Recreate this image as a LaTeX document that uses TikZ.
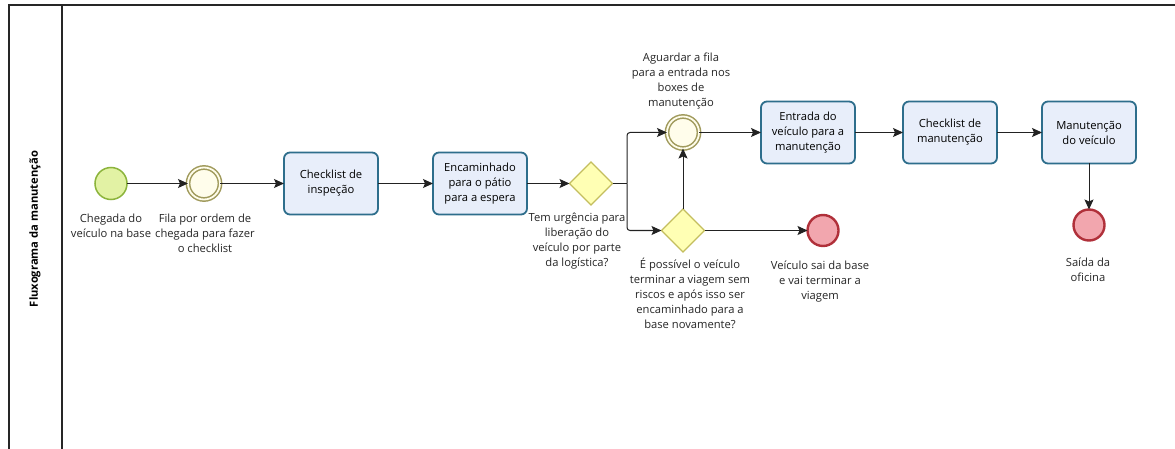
\documentclass[tikz,border=0pt]{standalone}
\usepackage{fontspec}
\setmainfont{Open Sans}
\usetikzlibrary{arrows.meta,shapes.geometric}
\definecolor{taskfill}{HTML}{E8EEFA}
\definecolor{taskdraw}{HTML}{2E6E8C}
\definecolor{startfill}{HTML}{E2F2A4}
\definecolor{startdraw}{HTML}{8CB43C}
\definecolor{midfill}{HTML}{FFFDEB}
\definecolor{middraw}{HTML}{A09A5C}
\definecolor{gwfill}{HTML}{FFFFB4}
\definecolor{gwdraw}{HTML}{C4BE5E}
\definecolor{endfill}{HTML}{F2A6AE}
\definecolor{enddraw}{HTML}{B0303A}
\definecolor{linec}{HTML}{222222}
\tikzset{
  every node/.style={inner sep=0pt, outer sep=0pt},
  lbl/.style={align=center, font=\fontsize{11.2}{15}\selectfont, text=black!85},
  taskbox/.style={draw=taskdraw, fill=taskfill, line width=1.8pt, rounded corners=6pt,
    minimum width=94pt, minimum height=62pt, align=center, font=\fontsize{11.2}{15}\selectfont},
  startev/.style={circle, draw=startdraw, fill=startfill, line width=1.5pt, minimum size=32pt},
  midev/.style={circle, draw=middraw, fill=midfill, line width=1.5pt, minimum size=32pt, double=midfill, double distance=1.8pt},
  endev/.style={circle, draw=enddraw, fill=endfill, line width=2.4pt, minimum size=31pt},
  gw/.style={diamond, draw=gwdraw, fill=gwfill, line width=1.2pt, minimum width=43pt, minimum height=43pt},
  flow/.style={draw=linec, line width=1pt, -{Stealth[length=10pt,width=9pt,inset=2pt]}},
  pool/.style={draw=black!85, line width=1.2pt}
}
\begin{document}
\begin{tikzpicture}[x=1pt,y=-1pt]
\useasboundingbox (0,0) rectangle (1175,449);
\fill[white] (0,0) rectangle (1175,449);
% pool
\draw[pool] (9,449) -- (9,5) -- (1175,5);
\draw[pool] (62,5) -- (62,449);
\node[rotate=90, font=\bfseries\fontsize{11.2}{12}\selectfont] (lane) at (35,229) {Fluxograma da manutenção};
% nodes
\node[startev] (start) at (111,183.5) {};
\node[midev] (fila) at (204,183.5) {};
\node[taskbox] (chk) at (331,183.5) {Checklist de\\inspeção};
\node[taskbox] (enc) at (480,183.5) {Encaminhado\\para o pátio\\para a espera};
\node[gw] (g1) at (591,183.5) {};
\node[midev] (agu) at (683,132.5) {};
\node[gw] (g2) at (683,230.5) {};
\node[endev] (sai) at (823,230.5) {};
\node[taskbox] (ent) at (808,132.5) {Entrada do\\veículo para a\\manutenção};
\node[taskbox] (chm) at (950,132.5) {Checklist de\\manutenção};
\node[taskbox] (man) at (1089,132.5) {Manutenção\\do veículo};
\node[endev] (fim) at (1089,225) {};
\coordinate (split) at (627,183.5);
% labels
\node[lbl] (l1) at (111,226) {Chegada do\\veículo na base};
\node[lbl] (l2) at (205,233) {Fila por ordem de\\chegada para fazer\\o checklist};
\node[lbl] (l3) at (577,241) {Tem urgência para\\liberação do\\veículo por parte\\da logística?};
\node[lbl] (l4) at (681,81) {Aguardar a fila\\para a entrada nos\\boxes de\\manutenção};
\node[lbl] (l5) at (690,293) {É possível o veículo\\terminar a viagem sem\\riscos e após isso ser\\encaminhado para a\\base novamente?};
\node[lbl] (l6) at (820,282) {Veículo sai da base\\e vai terminar a\\viagem};
\node[lbl] (l7) at (1088,270) {Saída da\\oficina};
% flows
\draw[flow] (start) -- (fila);
\draw[flow] (fila) -- (chk);
\draw[flow] (chk) -- (enc);
\draw[flow] (enc) -- (g1);
\draw[draw=linec, line width=1pt] (g1.east) -- (split);
\draw[flow, rounded corners=3pt] (split) |- (agu);
\draw[flow, rounded corners=3pt] (split) |- (g2);
\draw[flow] (g2.north) -- (agu);
\draw[flow] (g2.east) -- (sai);
\draw[flow] (agu) -- (ent);
\draw[flow] (ent) -- (chm);
\draw[flow] (chm) -- (man);
\draw[flow] (man) -- (fim);
\end{tikzpicture}
\end{document}
